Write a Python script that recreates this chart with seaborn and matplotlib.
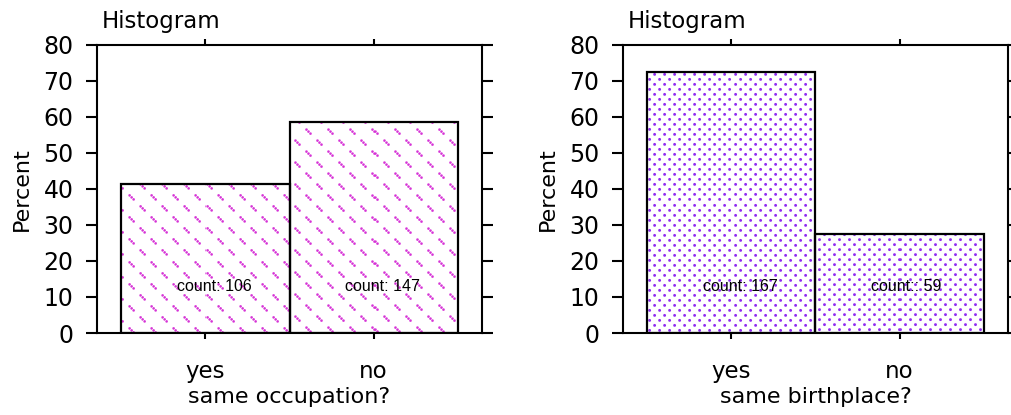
import numpy as np
import pandas as pd
import matplotlib
matplotlib.use("Agg")
import matplotlib.pyplot as plt
import seaborn as sns

# Survey answers and the share of respondents giving each one
answers = ["yes", "no"]
occupation_percent = [41.5, 58.5]
occupation_counts = ["count: 106", "count: 147"]
birthplace_percent = [72.6, 27.4]
birthplace_counts = ["count: 167", "count:: 59"]
y_ticks = [0, 10, 20, 30, 40, 50, 60, 70, 80]

sns.set_style("ticks")
plt.rcParams["font.family"] = ["DejaVu Sans"]
plt.rcParams["text.color"] = "black"
plt.rcParams["axes.labelcolor"] = "black"
plt.rcParams["xtick.color"] = "black"
plt.rcParams["ytick.color"] = "black"

W, H, DPI = 1012, 415, 100
fig = plt.figure(figsize=(W / DPI, H / DPI), dpi=DPI)
ax_left = fig.add_axes([97 / W, (H - 333) / H, 385 / W, 288 / H])
ax_right = fig.add_axes([623 / W, (H - 333) / H, 385 / W, 288 / H])


def pattern_alpha(kind, h, w, left_px, top_px):
    """Alpha mask of a repeating fill pattern, laid out in figure pixels."""
    rows, cols = np.mgrid[0:h, 0:w]
    x = cols + left_px + 0.5
    y = rows + top_px + 0.5
    best = np.full((h, w), np.inf)
    if kind == "dash":
        period = 22.0
        offsets = [(0.0, 0.0), (11.0, 11.0)]
        beads = [-2.0, 0.0, 2.0]
        radius = 1.15
    else:
        period = 10.0
        offsets = [(0.0, 0.0), (5.0, 5.0)]
        beads = [0.0]
        radius = 1.3
    for sx, sy in offsets:
        px = np.mod(x - sx, period) - period / 2
        py = np.mod(y - sy, period) - period / 2
        for t in beads:
            best = np.minimum(best, np.hypot(px - t, py - t))
    return np.clip(radius + 0.6 - best, 0, 1)


def histogram_panel(ax, percent, counts, xlabel, kind, color):
    df = pd.DataFrame({"answer": answers, "percent": percent})
    sns.barplot(data=df, x="answer", y="percent", order=answers, width=1.0,
                color="white", edgecolor="black", linewidth=1.6, ax=ax,
                zorder=2)
    bars = list(ax.patches)
    for bar in bars:
        bar.set_facecolor("none")

    xlim = (-0.645, 1.645)
    ax.set_xlim(*xlim)
    ax.set_ylim(0, 80)
    ax.set_yticks(y_ticks)

    # textured fill inside every bar
    rgb = np.array(matplotlib.colors.to_rgb(color))
    for bar in bars:
        x0, w, hgt = bar.get_x(), bar.get_width(), bar.get_height()
        px0, py0 = ax.transData.transform((x0, 0))
        px1, py1 = ax.transData.transform((x0 + w, hgt))
        wpx = int(round(px1 - px0))
        hpx = int(round(py1 - py0))
        alpha = pattern_alpha(kind, hpx, wpx, px0, H - py1)
        rgba = np.zeros((hpx, wpx, 4))
        rgba[..., :3] = rgb
        rgba[..., 3] = alpha
        ax.imshow(rgba, extent=(x0, x0 + w, 0, hgt), origin="upper",
                  interpolation="nearest", aspect="auto", zorder=1)
    ax.set_xlim(*xlim)
    ax.set_ylim(0, 80)

    for i, label in enumerate(counts):
        ax.text(i - 0.167, 12.8, label, ha="left", va="center",
                fontsize=11.5, family="Liberation Sans", color="black",
                zorder=3)

    for side in ["left", "right", "top", "bottom"]:
        ax.spines[side].set_visible(True)
        ax.spines[side].set_linewidth(1.5)
        ax.spines[side].set_color("black")
    ax.tick_params(axis="y", left=True, right=True, labelright=False,
                   direction="out", length=8, width=1.5, pad=9,
                   labelsize=17, colors="black")
    ax.tick_params(axis="x", top=True, bottom=True, labeltop=False,
                   direction="out", length=4.5, width=1.5, pad=15,
                   labelsize=16.5, colors="black")
    ax.set_xlabel(xlabel, fontsize=16, labelpad=3)
    ax.set_ylabel("Percent", fontsize=16, labelpad=8)
    ax.text(0.013, 1.059, "Histogram", transform=ax.transAxes,
            fontsize=16.5, va="baseline", ha="left")


histogram_panel(ax_left, occupation_percent, occupation_counts,
                "same occupation?", "dash", "#d633d6")
histogram_panel(ax_right, birthplace_percent, birthplace_counts,
                "same birthplace?", "dot", "#8f2cf0")

fig.savefig("out.png", dpi=DPI, facecolor="white")
